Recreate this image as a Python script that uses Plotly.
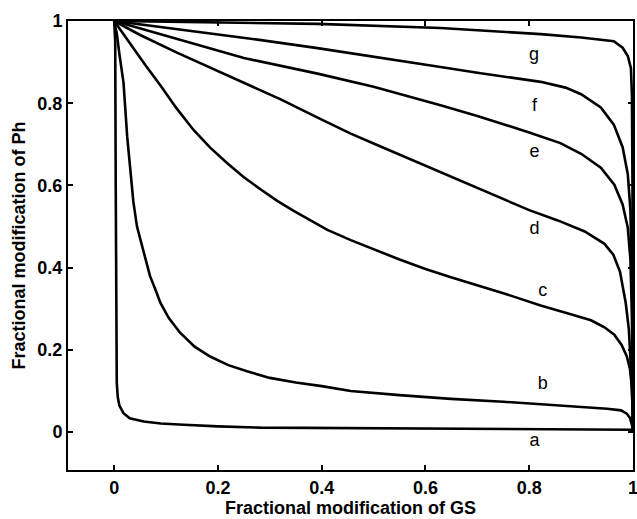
import plotly.graph_objects as go

a_x = [0, 0.002, 0.003, 0.004, 0.005, 0.007, 0.010, 0.018, 0.030, 0.057, 0.090, 0.134, 0.200, 0.282, 0.400, 0.600, 0.800, 0.950, 0.995, 1.0]
a_y = [1.0, 0.95, 0.60, 0.25, 0.12, 0.085, 0.065, 0.046, 0.034, 0.026, 0.021, 0.018, 0.014, 0.011, 0.010, 0.009, 0.008, 0.007, 0.006, 0.0]

b_x = [0, 0.005, 0.010, 0.018, 0.025, 0.031, 0.037, 0.044, 0.050, 0.060, 0.069, 0.080, 0.089, 0.105, 0.127, 0.155, 0.185, 0.220, 0.256, 0.300, 0.350, 0.400, 0.456, 0.550, 0.649, 0.750, 0.822, 0.900, 0.950, 0.977, 0.988, 0.994, 0.998, 1.0]
b_y = [1.0, 0.97, 0.92, 0.85, 0.72, 0.63, 0.56, 0.50, 0.47, 0.42, 0.38, 0.345, 0.315, 0.278, 0.242, 0.208, 0.184, 0.163, 0.148, 0.132, 0.121, 0.112, 0.100, 0.090, 0.081, 0.074, 0.068, 0.062, 0.057, 0.053, 0.045, 0.035, 0.018, 0.0]

c_x = [0, 0.030, 0.060, 0.091, 0.120, 0.153, 0.185, 0.218, 0.250, 0.284, 0.315, 0.346, 0.380, 0.411, 0.456, 0.500, 0.550, 0.600, 0.649, 0.750, 0.822, 0.880, 0.919, 0.945, 0.964, 0.978, 0.988, 0.994, 0.997, 0.999, 1.0]
c_y = [1.0, 0.946, 0.893, 0.840, 0.788, 0.735, 0.692, 0.654, 0.620, 0.589, 0.562, 0.538, 0.513, 0.492, 0.467, 0.445, 0.420, 0.397, 0.377, 0.338, 0.308, 0.287, 0.272, 0.255, 0.237, 0.212, 0.185, 0.155, 0.120, 0.070, 0.0]

d_x = [0, 0.050, 0.121, 0.200, 0.250, 0.320, 0.400, 0.456, 0.500, 0.600, 0.700, 0.800, 0.855, 0.907, 0.945, 0.962, 0.975, 0.986, 0.992, 0.995, 0.998, 1.0]
d_y = [1.0, 0.966, 0.923, 0.878, 0.850, 0.810, 0.760, 0.726, 0.702, 0.648, 0.595, 0.540, 0.515, 0.488, 0.458, 0.432, 0.390, 0.314, 0.250, 0.192, 0.110, 0.0]

e_x = [0, 0.100, 0.200, 0.250, 0.392, 0.456, 0.500, 0.629, 0.700, 0.800, 0.860, 0.900, 0.938, 0.964, 0.980, 0.990, 0.995, 0.998, 1.0]
e_y = [1.0, 0.964, 0.929, 0.910, 0.872, 0.854, 0.840, 0.795, 0.769, 0.729, 0.703, 0.677, 0.643, 0.602, 0.554, 0.497, 0.420, 0.280, 0.0]

f_x = [0, 0.100, 0.263, 0.392, 0.456, 0.500, 0.629, 0.700, 0.822, 0.870, 0.900, 0.938, 0.963, 0.980, 0.990, 0.995, 0.998, 1.0]
f_y = [1.0, 0.984, 0.957, 0.934, 0.922, 0.912, 0.888, 0.874, 0.852, 0.838, 0.822, 0.790, 0.748, 0.693, 0.627, 0.540, 0.380, 0.0]

g_x = [0, 0.200, 0.392, 0.629, 0.822, 0.900, 0.963, 0.980, 0.990, 0.996, 0.998, 0.999, 1.0]
g_y = [1.0, 0.997, 0.993, 0.983, 0.968, 0.960, 0.951, 0.935, 0.915, 0.885, 0.820, 0.600, 0.0]

curve_names = ["a", "b", "c", "d", "e", "f", "g"]
curves_x = [a_x, b_x, c_x, d_x, e_x, f_x, g_x]
curves_y = [a_y, b_y, c_y, d_y, e_y, f_y, g_y]

label_x = [0.81, 0.826, 0.826, 0.81, 0.81, 0.81, 0.809]
label_y = [-0.023, 0.115, 0.342, 0.493, 0.68, 0.793, 0.915]

tick_vals_x = [0, 0.2, 0.4, 0.6, 0.8, 1]
tick_text_x = ["0", "0.2", "0.4", "0.6", "0.8", "1"]
tick_vals_y = [0, 0.2, 0.4, 0.6, 0.8, 1]
tick_text_y = ["0", "0.2", "0.4", "0.6", "0.8", "1"]

FONT = "Liberation Sans, Arial, Helvetica, sans-serif"

fig = go.Figure()
for name, xs, ys in zip(curve_names, curves_x, curves_y):
    fig.add_trace(go.Scatter(x=xs, y=ys, mode="lines", name=name,
                             line=dict(color="black", width=2.6),
                             showlegend=False, hoverinfo="skip"))

fig.add_trace(go.Scatter(x=label_x, y=label_y, mode="text", text=curve_names,
                         textposition="middle center",
                         textfont=dict(family=FONT, size=18, color="black"),
                         showlegend=False, hoverinfo="skip"))

axis_common = dict(showline=True, linecolor="#000000", linewidth=2, mirror="ticks",
                   ticks="inside", ticklen=5, tickwidth=2, tickcolor="#000000",
                   showgrid=False, zeroline=False, layer="above traces",
                   ticklabeloverflow="allow",
                   tickfont=dict(family=FONT, size=18, color="black", weight="bold"))

fig.update_xaxes(range=[-0.089, 1.0], tickvals=tick_vals_x, ticktext=tick_text_x,
                 title=dict(text="Fractional modification of GS", standoff=5,
                            font=dict(family=FONT, size=18, color="black", weight="bold")),
                 **axis_common)
fig.update_yaxes(range=[-0.092, 1.0], tickvals=tick_vals_y, ticktext=tick_text_y,
                 title=dict(text="Fractional modification of Ph", standoff=7,
                            font=dict(family=FONT, size=18, color="black", weight="bold")),
                 **axis_common)

fig.update_layout(width=637, height=519, margin=dict(l=68, r=4, t=21, b=49, autoexpand=False),
                  plot_bgcolor="white", paper_bgcolor="white")

fig.write_html("out.html", config={"displayModeBar": False},
               post_script="document.body.style.margin='0';")
